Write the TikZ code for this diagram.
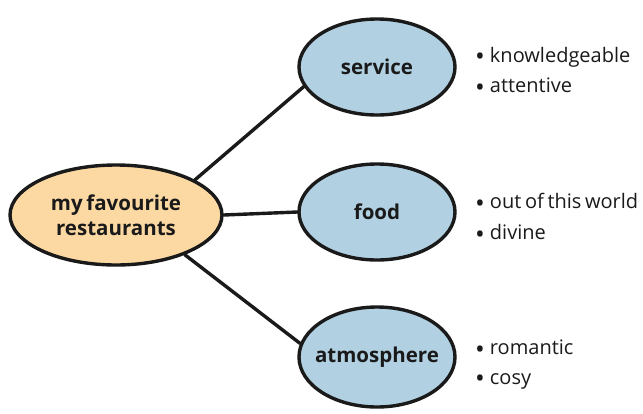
\documentclass[tikz,border=0pt]{standalone}
\usepackage{fontspec}
\setmainfont{Open Sans}[WordSpace=0.7]
\usetikzlibrary{shapes.geometric}
\definecolor{mainfill}{HTML}{FCD9A2}
\definecolor{subfill}{HTML}{B1D1E2}
\definecolor{ink}{HTML}{1A1A1A}
\newcommand{\bigbul}{\raisebox{-0.17em}{\fontsize{26}{22}\selectfont\textbullet}\hspace{5pt}}
\tikzset{
  bubble/.style={ellipse, draw=ink, line width=3.4pt, inner xsep=-25pt, inner ysep=-8pt, align=center,
     font=\fontsize{20.5}{25}\selectfont\bfseries, text=ink},
  mainbubble/.style={bubble, fill=mainfill, minimum width=212pt, minimum height=100pt},
  subbubble/.style={bubble, fill=subfill, minimum width=156pt, minimum height=96pt},
  link/.style={draw=ink, line width=3.4pt, line cap=round},
  item/.style={anchor=west, inner sep=0pt, font=\fontsize{20}{22}\selectfont, text=ink}
}
\begin{document}
\begin{tikzpicture}[x=1pt,y=-1pt]
\useasboundingbox (0,0) rectangle (643,413);
\node[mainbubble] (main) at (116,215) {my favourite\\restaurants};
\node[subbubble] (service) at (377,67) {service};
\node[subbubble] (food) at (377,212) {food};
\node[subbubble, minimum height=100pt] (atmos) at (377,357) {atmosphere};
\draw[link] (main.24) -- (service.195);
\draw[link] (main.east) -- (food.west);
\draw[link] (main.-30) -- (atmos.170);
\node[item] (s1) at (475,57) {\bigbul knowledgeable};
\node[item] (s2) at (475,87) {\bigbul attentive};
\node[item] (f1) at (475,203) {\bigbul out of this world};
\node[item] (f2) at (475,234) {\bigbul divine};
\node[item] (a1) at (475,349) {\bigbul romantic};
\node[item] (a2) at (475,381) {\bigbul cosy};
\end{tikzpicture}
\end{document}
